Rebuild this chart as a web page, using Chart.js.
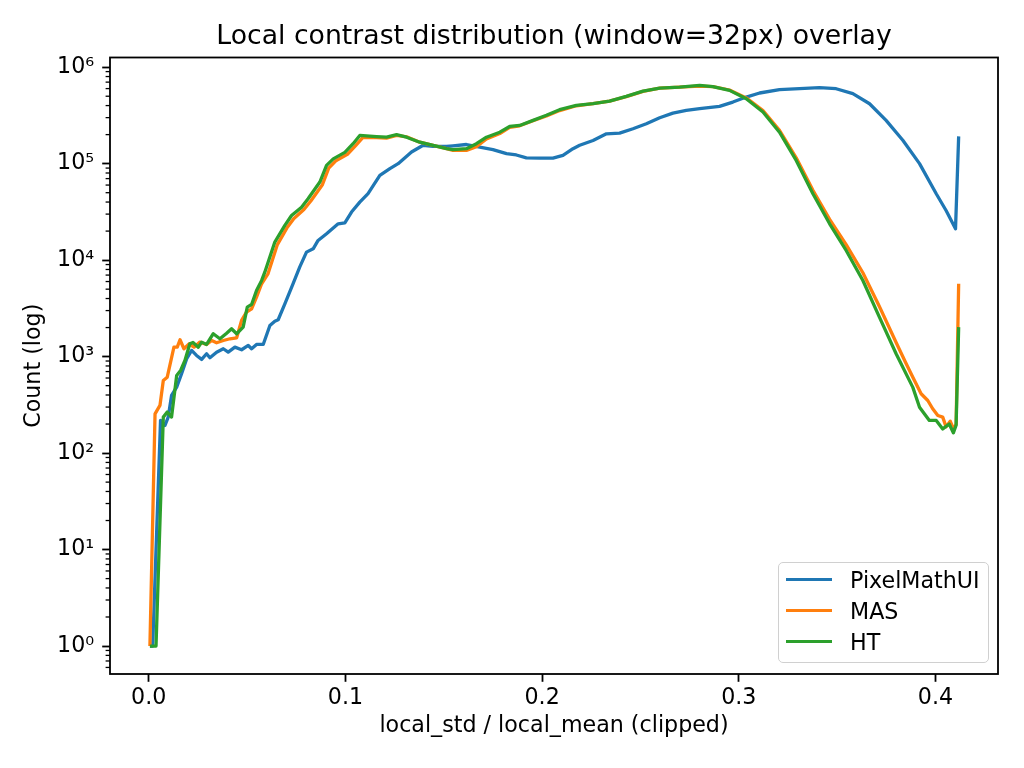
<!DOCTYPE html>
<html>
<head>
<meta charset="utf-8">
<script src="https://cdn.jsdelivr.net/npm/chart.js@4.4.0/dist/chart.umd.min.js"></script>
<style>
  html, body { margin: 0; padding: 0; background: #fff; }
  #wrap { position: relative; width: 1024px; height: 768px; }
  #legend {
    position: absolute; left: 778px; top: 562px; width: 211px; height: 101px;
    box-sizing: border-box; border: 1.6px solid #d0d0d0; border-radius: 5px;
    background: rgba(255,255,255,0.8);
    font-family: 'DejaVu Sans', sans-serif; font-size: 22.2px; color: #000;
  }
  .item { position: absolute; left: 7px; height: 26px; line-height: 26px; display: flex; align-items: center; }
  .swatch { width: 46px; height: 3.3px; margin-right: 18px; }
</style>
</head>
<body>
<div id="wrap">
  <canvas id="c" width="1024" height="768"></canvas>
  <div id="legend"></div>
</div>
<script>
// ----- data (x = local_std / local_mean, y = count) -----
const pmuiX = [0.0006,0.0020,0.0060,0.0082,0.0099,0.0116,0.0142,0.0167,0.0193,0.0218,0.0243,0.0269,0.0294,0.0311,0.0345,0.0379,0.0404,0.0438,0.0472,0.0506,0.0523,0.0548,0.0582,0.0616,0.0641,0.0658,0.0692,0.0734,0.0768,0.0802,0.0836,0.0861,0.0904,0.0963,0.0997,0.1031,0.1073,0.1115,0.1175,0.1226,0.1268,0.1336,0.1395,0.1446,0.1514,0.1547,0.1615,0.1683,0.1750,0.1819,0.1869,0.1920,0.1988,0.2055,0.2106,0.2157,0.2191,0.2259,0.2327,0.2394,0.2462,0.2530,0.2598,0.2665,0.2733,0.2801,0.2902,0.2970,0.3038,0.3106,0.3207,0.3309,0.3410,0.3495,0.3580,0.3665,0.3749,0.3834,0.3919,0.4004,0.4054,0.4102,0.4118];
const pmuiY = [1,1,218,193,236,396,482,664,950,1158,1028,935,1070,973,1112,1206,1112,1253,1178,1305,1206,1337,1337,2103,2330,2410,3530,5700,8500,12100,13100,16000,18800,23800,24400,31500,39900,48900,75500,88700,100000,132000,155000,151000,151000,153000,158000,148000,140000,127000,123000,115000,114000,114000,122000,143000,155000,174000,204000,207000,230000,259000,299000,334000,356000,372000,393000,435000,490000,540000,585000,598000,613000,598000,531000,418000,281000,175000,100000,48800,32700,21100,192000];

const masX = [0.0006,0.0032,0.0057,0.0074,0.0094,0.0128,0.0145,0.0159,0.0179,0.0206,0.0230,0.0260,0.0294,0.0320,0.0345,0.0379,0.0413,0.0447,0.0472,0.0497,0.0523,0.0548,0.0574,0.0606,0.0654,0.0702,0.0738,0.0789,0.0824,0.0882,0.0915,0.0951,0.1010,0.1053,0.1088,0.1158,0.1209,0.1260,0.1311,0.1378,0.1446,0.1514,0.1547,0.1615,0.1666,0.1717,0.1785,0.1835,0.1886,0.1954,0.2022,0.2089,0.2174,0.2259,0.2343,0.2428,0.2513,0.2598,0.2699,0.2801,0.2868,0.2953,0.3038,0.3123,0.3207,0.3292,0.3377,0.3462,0.3546,0.3631,0.3715,0.3800,0.3847,0.3885,0.3927,0.3961,0.3986,0.4012,0.4037,0.4054,0.4075,0.4092,0.4105,0.4118];
const masY = [1,255,312,566,612,1253,1253,1495,1206,1358,1253,1413,1337,1469,1390,1469,1531,1567,2371,2893,3133,4134,5690,7200,14500,21500,27000,33500,41000,60000,90000,107000,125000,155000,186000,186000,184000,196000,190000,167000,155000,143000,137000,137000,150000,180000,205000,238000,247000,278000,312000,355000,398000,418000,445000,495000,562000,607000,622000,637000,630000,580000,480000,355000,222000,115000,53000,26500,14500,7400,3300,1400,880,612,412,351,288,245,236,187,214,178,199,5700];

const htX = [0.0006,0.0037,0.0074,0.0094,0.0116,0.0142,0.0162,0.0184,0.0209,0.0225,0.0252,0.0269,0.0294,0.0328,0.0362,0.0396,0.0421,0.0447,0.0480,0.0501,0.0523,0.0548,0.0574,0.0590,0.0641,0.0692,0.0726,0.0777,0.0810,0.0870,0.0904,0.0938,0.0997,0.1039,0.1073,0.1158,0.1209,0.1260,0.1311,0.1378,0.1446,0.1514,0.1547,0.1615,0.1666,0.1717,0.1785,0.1835,0.1886,0.1954,0.2022,0.2089,0.2174,0.2259,0.2343,0.2428,0.2513,0.2598,0.2699,0.2801,0.2868,0.2953,0.3038,0.3123,0.3207,0.3292,0.3377,0.3462,0.3546,0.3631,0.3715,0.3800,0.3885,0.3919,0.3969,0.4004,0.4037,0.4070,0.4091,0.4105,0.4118];
const htY = [1,1,236,266,236,638,718,912,1360,1400,1253,1413,1337,1726,1531,1750,1945,1726,2020,3258,3474,4850,6160,7500,15400,22900,29000,35400,43300,64500,95900,112000,131000,161000,196000,191000,188000,200000,188000,167000,155000,143000,140000,143000,161000,188000,212000,243000,249000,281000,317000,363000,402000,418000,445000,498000,565000,607000,622000,647000,630000,575000,471000,343000,212000,108000,48700,23800,12600,6150,2570,1070,480,299,218,218,178,200,162,195,2020];

const seriesNames = ['PixelMathUI', 'MAS', 'HT'];
const seriesColors = ['#1f77b4', '#ff7f0e', '#2ca02c'];
const titleText = 'Local contrast distribution (window=32px) overlay';

// tick positions
const xTicks = [0, 0.1, 0.2, 0.3, 0.4];
const yTickExps = [0, 1, 2, 3, 4, 5, 6];

const SUP = {'0':'⁰','1':'¹','2':'²','3':'³','4':'⁴','5':'⁵','6':'⁶','-':'⁻'};
const sup = n => String(n).split('').map(ch => SUP[ch]).join('');

const toPoints = (xs, ys) => xs.map((x, i) => ({ x, y: ys[i] }));

// matplotlib-like frame, minor log ticks and a title centred over the axes
const framePlugin = {
  id: 'frame',
  afterDraw(c) {
    const { ctx, chartArea: a } = c;
    const y = c.scales.y;
    ctx.save();
    ctx.strokeStyle = '#000';
    ctx.lineWidth = 1.3;
    for (let e = -1; e <= 6; e++) {
      for (let m = 2; m <= 9; m++) {
        const v = m * Math.pow(10, e);
        if (v < y.min || v > y.max) continue;
        const py = y.getPixelForValue(v);
        ctx.beginPath();
        ctx.moveTo(a.left - 4.4, py);
        ctx.lineTo(a.left, py);
        ctx.stroke();
      }
    }
    ctx.lineWidth = 1.8;
    ctx.strokeRect(a.left, a.top, a.right - a.left, a.bottom - a.top);

    ctx.fillStyle = '#000';
    ctx.font = "26.7px 'DejaVu Sans', sans-serif";
    ctx.textAlign = 'center';
    ctx.textBaseline = 'alphabetic';
    ctx.fillText(titleText, (a.left + a.right) / 2, 44.3);
    ctx.restore();
  }
};

Chart.defaults.font.family = "'DejaVu Sans', sans-serif";
Chart.defaults.color = '#000';

const datasets = [
  { x: pmuiX, y: pmuiY },
  { x: masX, y: masY },
  { x: htX, y: htY },
].map((s, i) => ({
  label: seriesNames[i],
  data: toPoints(s.x, s.y),
  borderColor: seriesColors[i],
  backgroundColor: seriesColors[i],
  borderWidth: 3.3,
  pointRadius: 0,
  tension: 0,
  fill: false,
  borderJoinStyle: 'round',
  order: 2 - i,            // later series drawn on top, like matplotlib
}));

const chart = new Chart(document.getElementById('c'), {
  type: 'line',
  data: { datasets },
  plugins: [framePlugin],
  options: {
    responsive: false,
    animation: false,
    layout: { padding: { left: 0, right: 26, top: 57.5, bottom: 0 } },
    plugins: {
      legend: { display: false },
      tooltip: { enabled: false },
      title: { display: false },
    },
    scales: {
      x: {
        type: 'linear',
        min: -0.0197, max: 0.4318,
        afterFit: s => { s.height = 94; },
        afterBuildTicks: s => { s.ticks = xTicks.map(v => ({ value: v })); },
        ticks: { font: { size: 22.2 }, color: '#000', padding: 3, maxRotation: 0, autoSkip: false,
                 callback: v => Number(v).toFixed(1) },
        grid: { display: true, drawOnChartArea: false, drawTicks: true, tickLength: 7.8, tickColor: '#000', tickWidth: 1.8 },
        border: { display: false },
        title: { display: true, text: 'local_std / local_mean (clipped)', font: { size: 22.2 }, color: '#000',
                 padding: { top: 0, bottom: 28 } },
      },
      y: {
        type: 'logarithmic',
        min: 0.513, max: 1.26e6,
        afterFit: s => { s.width = 110; },
        afterBuildTicks: s => { s.ticks = yTickExps.map(e => ({ value: Math.pow(10, e), major: true })); },
        ticks: { font: { size: 22.2 }, color: '#000', padding: 8, autoSkip: false,
                 callback: v => '10' + sup(Math.round(Math.log10(v))) },
        grid: { display: true, drawOnChartArea: false, drawTicks: true, tickLength: 7.8, tickColor: '#000', tickWidth: 1.8 },
        border: { display: false },
        title: { display: true, text: 'Count (log)', font: { size: 22.2 }, color: '#000',
                 padding: { top: 21, bottom: 0 } },
      },
    },
  },
});

// ----- legend (lower right, inside the axes) -----
const legend = document.getElementById('legend');
const rowTops = [3.5, 34.5, 65.5];
chart.data.datasets.forEach((d, i) => {
  const row = document.createElement('div');
  row.className = 'item';
  row.style.top = rowTops[i] + 'px';
  row.innerHTML = `<span class="swatch" style="background:${d.borderColor}"></span><span>${d.label}</span>`;
  legend.appendChild(row);
});
</script>
</body>
</html>
